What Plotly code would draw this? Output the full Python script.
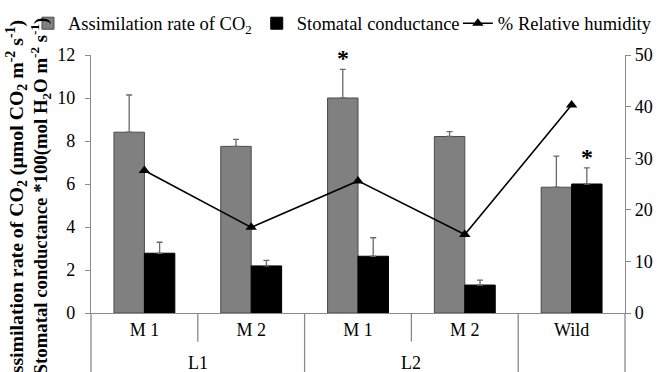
import plotly.graph_objects as go

# Groups on the x axis: inner (mutant line) and outer (parent line) labels
sub_labels = ["M 1", "M 2", "M 1", "M 2", "Wild"]
group_labels = ["L1", "L2"]

# Assimilation rate of CO2 (umol CO2 m-2 s-1) with upper error
assimilation = [8.41, 7.75, 10.0, 8.21, 5.85]
assimilation_err = [1.73, 0.33, 1.33, 0.23, 1.45]

# Stomatal conductance *100 (mol H2O m-2 s-1) with upper error
conductance = [2.78, 2.19, 2.64, 1.30, 6.0]
conductance_err = [0.51, 0.26, 0.86, 0.23, 0.75]

# Relative humidity (%)
humidity = [27.6, 16.6, 25.6, 15.2, 40.3]

# Significance marks: (category index, series)
significant = [(2, "assim"), (4, "cond")]

FONT = "Liberation Serif, Times New Roman, serif"
AXIS_GREY = "#8a8a8a"
xs = list(range(len(sub_labels)))

fig = go.Figure()

fig.add_trace(go.Bar(
    x=xs, y=assimilation, name="Assimilation rate of CO<sub>2</sub>",
    marker=dict(color="#808080", line=dict(color="#4a4a4a", width=1)),
    error_y=dict(type="data", symmetric=False, array=assimilation_err,
                 arrayminus=[0] * len(xs), color="#6a6a6a", thickness=1.3, width=3),
))
fig.add_trace(go.Bar(
    x=xs, y=conductance, name="Stomatal conductance",
    marker=dict(color="#000000", line=dict(color="#000000", width=1)),
    error_y=dict(type="data", symmetric=False, array=conductance_err,
                 arrayminus=[0] * len(xs), color="#6a6a6a", thickness=1.3, width=3),
))
fig.add_trace(go.Scatter(
    x=xs, y=humidity, name="% Relative humidity", yaxis="y2", legend="legend2",
    mode="lines+markers",
    line=dict(color="#000000", width=1.6),
    marker=dict(symbol="triangle-up", size=10, color="#000000"),
))

# Asterisks above the significant bars' error bars
for idx, series in significant:
    if series == "assim":
        top, shift = assimilation[idx] + assimilation_err[idx], -15
    else:
        top, shift = conductance[idx] + conductance_err[idx], 15
    fig.add_annotation(x=idx, y=top, xref="x", yref="y", text="<b>*</b>",
                       showarrow=False, xshift=shift, yanchor="bottom", yshift=-4,
                       font=dict(family=FONT, size=24, color="#000000"))

# Outer group labels
for i, lab in enumerate(group_labels):
    fig.add_annotation(x=2 * i + 0.5, y=-0.195, xref="x", yref="paper", text=lab,
                       showarrow=False, yanchor="middle",
                       font=dict(family=FONT, size=18, color="#000000"))

shapes = []
# Axis lines continued below the category axis
for xp in (0, 1):
    shapes.append(dict(type="line", xref="paper", yref="paper", x0=xp, x1=xp,
                       y0=0, y1=-0.3, line=dict(color=AXIS_GREY, width=1.3)))
# Short dividers between sub-groups, long ones between groups
for xv in (0.5, 2.5):
    shapes.append(dict(type="line", xref="x", yref="paper", x0=xv, x1=xv,
                       y0=0, y1=-0.111, line=dict(color=AXIS_GREY, width=1.3)))
for xv in (1.5, 3.5):
    shapes.append(dict(type="line", xref="x", yref="paper", x0=xv, x1=xv,
                       y0=0, y1=-0.3, line=dict(color=AXIS_GREY, width=1.3)))

# Left axis title, two lines
fig.add_annotation(
    x=-0.140, y=0.425, xref="paper", yref="paper", textangle=-90,
    text="<b>Assimilation rate of CO<sub>2</sub> (µmol CO<sub>2</sub> m<sup>-2</sup> s<sup>-1</sup>)</b>",
    showarrow=False, xanchor="center", yanchor="middle",
    font=dict(family=FONT, size=19.8, color="#000000"),
)
fig.add_annotation(
    x=-0.094, y=0.455, xref="paper", yref="paper", textangle=-90,
    text="<b>Stomatal conductance *100(mol H<sub>2</sub>O m<sup>-2</sup> s<sup>-1</sup>)</b>",
    showarrow=False, xanchor="center", yanchor="middle",
    font=dict(family=FONT, size=18.8, color="#000000"),
)
# Right axis title
fig.add_annotation(
    x=1.085, y=0.49, xref="paper", yref="paper", textangle=-90,
    text="<b>% RH</b>", showarrow=False, xanchor="left", yanchor="middle",
    font=dict(family=FONT, size=19, color="#000000"),
)

legend_style = dict(orientation="h", xref="paper", yref="paper",
                    y=1.195, xanchor="left", yanchor="top",
                    font=dict(family=FONT, size=18.5, color="#000000"),
                    bgcolor="rgba(0,0,0,0)", itemwidth=30, traceorder="normal")

fig.update_layout(
    width=661, height=372,
    margin=dict(l=91, r=36, t=55, b=59, autoexpand=False),
    paper_bgcolor="white", plot_bgcolor="white",
    barmode="group", bargap=0.43, bargroupgap=0,
    font=dict(family=FONT, size=18, color="#000000"),
    shapes=shapes,
    showlegend=True,
    legend=dict(legend_style, x=-0.118),
    legend2=dict(legend_style, x=0.687),
    xaxis=dict(range=[-0.5, 4.5], tickmode="array", tickvals=xs, ticktext=sub_labels,
               ticks="", showline=True, linecolor=AXIS_GREY, linewidth=1.3,
               showgrid=False, zeroline=False, fixedrange=True,
               tickfont=dict(family=FONT, size=18, color="#000000")),
    yaxis=dict(range=[0, 12], dtick=2, ticks="outside", ticklen=5, tickcolor=AXIS_GREY,
               tickwidth=1.3, showline=True, linecolor=AXIS_GREY, linewidth=1.3,
               showgrid=False, zeroline=False, ticklabelstandoff=6,
               tickfont=dict(family=FONT, size=18, color="#000000")),
    yaxis3=dict(range=[0, 12], dtick=2, overlaying="y", anchor="x", side="left",
                ticks="inside", ticklen=5, tickcolor=AXIS_GREY, tickwidth=1.3,
                showticklabels=False, showline=False, showgrid=False, zeroline=False),
    yaxis2=dict(range=[0, 50], dtick=10, overlaying="y", side="right", anchor="x",
                ticks="outside", ticklen=5, tickcolor=AXIS_GREY, tickwidth=1.3,
                showline=True, linecolor=AXIS_GREY, linewidth=1.3,
                showgrid=False, zeroline=False,
                tickfont=dict(family=FONT, size=18, color="#000000")),
)

fig.write_html("out.html")
